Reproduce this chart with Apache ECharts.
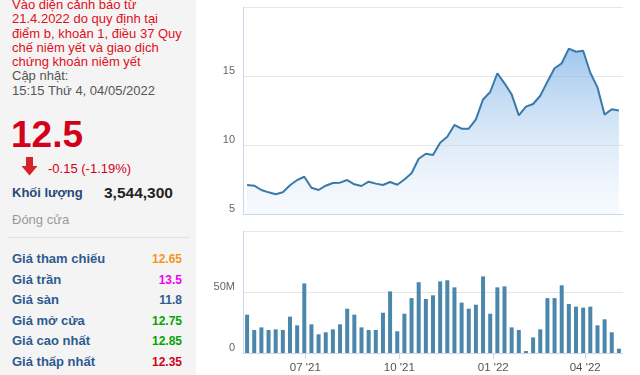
<!DOCTYPE html>
<html>
<head>
<meta charset="utf-8">
<script src="https://cdn.jsdelivr.net/npm/echarts@6/dist/echarts.min.js"></script>
<style>
  html, body { margin:0; padding:0; width:640px; height:375px; overflow:hidden; background:#fff; font-family:"Liberation Sans", Arial, sans-serif; }
  #left { position:absolute; left:0; top:0; width:196px; height:375px; background:#f4f4f4; }
  .abs { position:absolute; white-space:nowrap; }
  #notice { left:12px; top:-2px; font-size:13px; line-height:14.3px; color:#e0101c; }
  #notice .upd { color:#555; }
  #price { left:11px; top:116px; font-size:37px; line-height:37px; font-weight:bold; color:#d3001a; }
  #chg { left:48px; top:161px; font-size:13px; line-height:16px; color:#d3001a; }
  #arrow { left:21px; top:157px; }
  #kl { left:12px; top:185px; font-size:13px; line-height:16px; font-weight:bold; color:#26497a; }
  #vol { left:104px; top:184px; font-size:15.5px; line-height:18px; font-weight:bold; color:#222; }
  #close { left:12px; top:212px; font-size:13px; line-height:16px; color:#9a9a9a; }
  #sep { left:8px; top:237px; width:182px; height:1px; background:#e2e2e2; }
  .row { position:absolute; left:12px; width:170px; height:20px; font-size:13px; line-height:20px; font-weight:bold; color:#2d5b8f; }
  .row span { position:absolute; right:0; top:0; font-size:12px; }
  #chart { position:absolute; left:196px; top:0; width:444px; height:375px; }
</style>
</head>
<body>
<div id="left">
  <div id="notice" class="abs">Vào diện cảnh báo từ<br>21.4.2022 do quy định tại<br>điểm b, khoản 1, điều 37 Quy<br>chế niêm yết và giao dịch<br>chứng khoán niêm yết<br><span class="upd">Cập nhật:<br>15:15 Thứ 4, 04/05/2022</span></div>
  <div id="price" class="abs">12.5</div>
  <svg id="arrow" class="abs" width="17" height="19" viewBox="0 0 17 19">
    <polygon points="5,0 12,0 12,9 16.5,9 8.5,18.5 0.5,9 5,9" fill="#d8222a"/>
  </svg>
  <div id="chg" class="abs">-0.15 (-1.19%)</div>
  <div id="kl" class="abs">Khối lượng</div>
  <div id="vol" class="abs">3,544,300</div>
  <div id="close" class="abs">Đóng cửa</div>
  <div id="sep" class="abs"></div>
  <div class="row" style="top:249px">Giá tham chiếu<span style="color:#f7941d">12.65</span></div>
  <div class="row" style="top:269.5px">Giá trần<span style="color:#f000f0">13.5</span></div>
  <div class="row" style="top:290px">Giá sàn<span style="color:#2d5b8f">11.8</span></div>
  <div class="row" style="top:310.5px">Giá mở cửa<span style="color:#05a305">12.75</span></div>
  <div class="row" style="top:331px">Giá cao nhất<span style="color:#05a305">12.85</span></div>
  <div class="row" style="top:351.5px">Giá thấp nhất<span style="color:#d3001a">12.35</span></div>
</div>
<div id="chart"></div>
<script>
const weekDates = [
  '2021-05-05','2021-05-12','2021-05-19','2021-05-26','2021-06-02','2021-06-09','2021-06-16','2021-06-23','2021-06-30',
  '2021-07-07','2021-07-14','2021-07-21','2021-07-28','2021-08-04','2021-08-11','2021-08-18','2021-08-25',
  '2021-09-01','2021-09-08','2021-09-15','2021-09-22','2021-09-29','2021-10-06','2021-10-13','2021-10-20','2021-10-27',
  '2021-11-03','2021-11-10','2021-11-17','2021-11-24','2021-12-01','2021-12-08','2021-12-15','2021-12-22','2021-12-29',
  '2022-01-05','2022-01-12','2022-01-19','2022-01-26','2022-02-02','2022-02-09','2022-02-16','2022-02-23',
  '2022-03-02','2022-03-09','2022-03-16','2022-03-23','2022-03-30','2022-04-06','2022-04-13','2022-04-20','2022-04-27','2022-05-04'
];
const closePrices = [
  7.1, 7.05, 6.74, 6.57, 6.43, 6.57, 7.08, 7.46, 7.7, 6.9,
  6.74, 7.05, 7.25, 7.27, 7.46, 7.15, 7.03, 7.34, 7.2, 7.1,
  7.32, 7.12, 7.5, 7.95, 9.0, 9.37, 9.28, 10.17, 10.6, 11.45,
  11.18, 11.18, 11.86, 13.3, 13.84, 15.2, 14.47, 13.67, 12.15, 12.78,
  12.97, 13.57, 14.59, 15.56, 15.92, 16.98, 16.76, 16.83, 15.24, 14.18,
  12.2, 12.59, 12.5
];
const volumesM = [
  31.4, 18.9, 21.0, 18.9, 19.4, 18.9, 29.8, 22.7, 57.0, 23.5,
  15.3, 17.0, 19.4, 23.5, 36.3, 31.4, 21.0, 18.9, 18.9, 33.0,
  50.5, 17.8, 32.2, 45.0, 58.0, 44.3, 47.3, 58.7, 59.6, 53.8,
  41.3, 36.3, 39.6, 62.8, 32.2, 53.8, 54.6, 21.0, 18.9, 1.6,
  12.8, 19.4, 45.0, 45.0, 55.5, 40.2, 38.0, 37.2, 38.0, 22.7,
  27.6, 17.0, 3.5
];
const tickDates = ['2021-07-01', '2021-10-01', '2022-01-01', '2022-04-01'];
const tickLabels = ["07 '21", "10 '21", "01 '22", "04 '22"];
const axisStart = '2021-05-01';
const axisEnd = '2022-05-08';

function ts(s) { const p = s.split('-').map(Number); return Date.UTC(p[0], p[1] - 1, p[2]); }
const tickTimes = tickDates.map(ts);

const FONT = '"Liberation Sans", Arial, sans-serif';
const AXIS_COLOR = '#ccd6eb';
const GRID_COLOR = '#e6e6e6';

const chart = echarts.init(document.getElementById('chart'), null, { renderer: 'canvas' });
chart.setOption({
  animation: false,
  backgroundColor: '#fff',
  textStyle: { fontFamily: FONT },
  grid: [
    { left: 47, right: 17, top: 7, height: 207 },
    { left: 47, right: 17, top: 231, height: 122 }
  ],
  xAxis: [
    {
      type: 'value', gridIndex: 0, min: ts(axisStart), max: ts(axisEnd), scale: true,
      axisLine: { show: true, onZero: false, lineStyle: { color: AXIS_COLOR, width: 1 } },
      axisTick: { show: false }, axisLabel: { show: false }, splitLine: { show: false }
    },
    {
      type: 'value', gridIndex: 1, min: ts(axisStart), max: ts(axisEnd), scale: true,
      axisLine: { show: true, onZero: false, lineStyle: { color: AXIS_COLOR, width: 1 } },
      axisTick: { show: true, customValues: tickTimes, length: 6, lineStyle: { color: AXIS_COLOR } },
      axisLabel: {
        customValues: tickTimes, color: '#555', fontSize: 11.5, fontFamily: FONT, margin: 9,
        formatter: function (v) { const i = tickTimes.indexOf(v); return i >= 0 ? tickLabels[i] : ''; }
      },
      splitLine: { show: false }
    }
  ],
  yAxis: [
    {
      type: 'value', gridIndex: 0, min: 5, max: 20, interval: 5,
      axisLine: { show: true, lineStyle: { color: AXIS_COLOR } },
      axisTick: { show: false },
      splitLine: { show: true, lineStyle: { color: GRID_COLOR } },
      axisLabel: { color: '#666', fontSize: 11, fontFamily: FONT, margin: 8, verticalAlign: 'bottom', showMaxLabel: false }
    },
    {
      type: 'value', gridIndex: 1, min: 0, max: 100, interval: 50,
      axisLine: { show: true, lineStyle: { color: AXIS_COLOR } },
      axisTick: { show: false },
      splitLine: { show: true, lineStyle: { color: GRID_COLOR } },
      axisLabel: {
        color: '#666', fontSize: 11, fontFamily: FONT, margin: 8, verticalAlign: 'bottom', showMaxLabel: false,
        formatter: function (v) { return v === 0 ? '0' : v + 'M'; }
      }
    }
  ],
  series: [
    {
      type: 'line', xAxisIndex: 0, yAxisIndex: 0,
      data: weekDates.map((d, i) => [ts(d), closePrices[i]]),
      symbol: 'none', smooth: false,
      lineStyle: { color: '#3a7aa9', width: 2 },
      areaStyle: {
        color: new echarts.graphic.LinearGradient(0, 0, 0, 1, [
          { offset: 0, color: 'rgba(112,170,228,0.95)' },
          { offset: 1, color: 'rgba(225,237,250,0.35)' }
        ])
      }
    },
    {
      type: 'bar', xAxisIndex: 1, yAxisIndex: 1,
      data: weekDates.map((d, i) => [ts(d), volumesM[i]]),
      barWidth: 4,
      itemStyle: { color: '#4a87ab' }
    }
  ]
});
</script>
</body>
</html>
